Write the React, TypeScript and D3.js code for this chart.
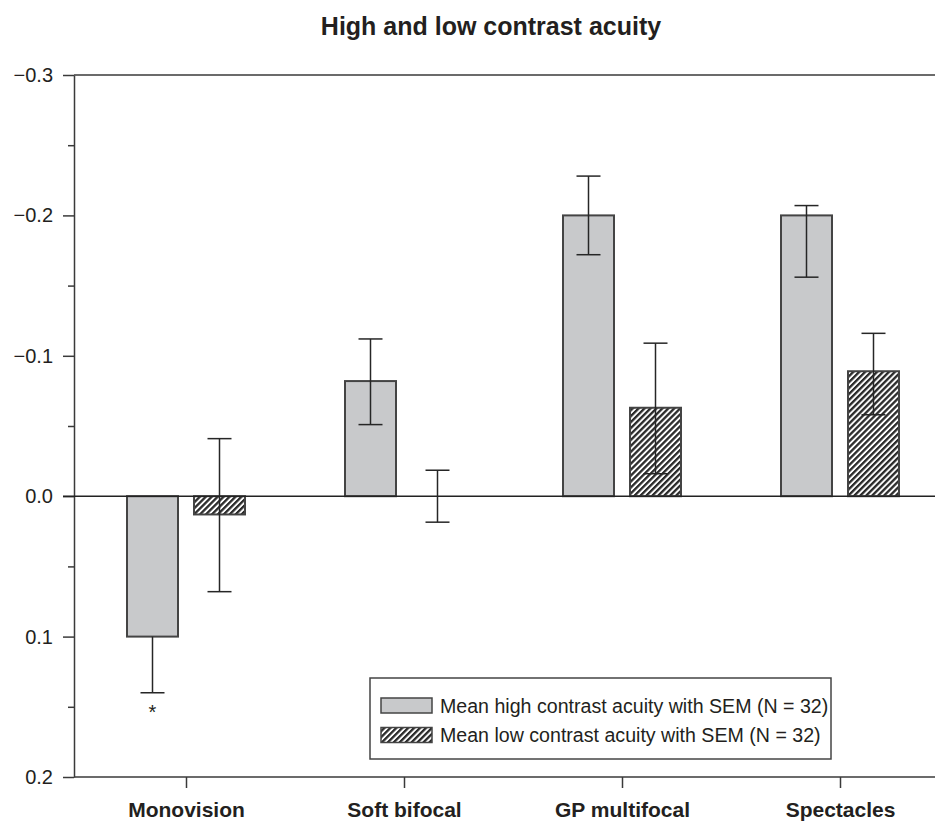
import { useRef, useEffect } from 'react';
import * as d3 from 'd3';

const categories = ['Monovision', 'Soft bifocal', 'GP multifocal', 'Spectacles'];

// mean values and the two ends of each SEM bar (y axis is reversed: negative is up)
const highMean = [0.1, -0.082, -0.2, -0.2];
const highErrMin = [0.1, -0.112, -0.228, -0.207];
const highErrMax = [0.14, -0.051, -0.172, -0.156];

const lowMean = [0.013, 0, -0.063, -0.089];
const lowErrMin = [-0.041, -0.0185, -0.109, -0.116];
const lowErrMax = [0.068, 0.0185, -0.016, -0.058];

const yTicks = [-0.3, -0.2, -0.1, 0, 0.1, 0.2];
const yMinorTicks = [-0.25, -0.15, -0.05, 0.05, 0.15];

const legendLabels = [
  'Mean high contrast acuity with SEM (N = 32)',
  'Mean low contrast acuity with SEM (N = 32)',
];

const FONT = "'Liberation Sans', Arial, Helvetica, sans-serif";
const INK = '#231f20';
const LINE = '#3a3a3a';
const GRAY = '#c8c9cb';

const App = () => {
  const svgRef = useRef<SVGSVGElement>(null);

  useEffect(() => {
    if (!svgRef.current) return;

    const width = 935;
    const height = 821;
    const plotLeft = 74;
    const plotTop = 75;
    const plotBottom = 777;

    const svg = d3
      .select(svgRef.current)
      .attr('width', width)
      .attr('height', height)
      .attr('viewBox', [0, 0, width, height]);

    svg.selectAll('*').remove();

    const defs = svg.append('defs');
    const pat = defs
      .append('pattern')
      .attr('id', 'hatch')
      .attr('patternUnits', 'userSpaceOnUse')
      .attr('width', 4.2)
      .attr('height', 4.2)
      .attr('patternTransform', 'rotate(45)');
    pat.append('rect').attr('width', 4.2).attr('height', 4.2).attr('fill', '#ffffff');
    pat.append('rect').attr('width', 2.3).attr('height', 4.2).attr('fill', '#2a2a2a');

    const x = d3
      .scalePoint<string>()
      .domain(categories)
      .range([77, 949])
      .padding(0.5);

    const y = d3.scaleLinear().domain([-0.3, 0.2]).range([plotTop, plotBottom]);

    const barW = 51;
    const offHigh = -59;
    const offLow = 8;

    // title
    svg
      .append('text')
      .attr('x', 491)
      .attr('y', 35)
      .attr('text-anchor', 'middle')
      .attr('font-family', FONT)
      .attr('font-weight', 'bold')
      .attr('font-size', 25)
      .attr('fill', INK)
      .text('High and low contrast acuity');

    // frame lines
    svg
      .append('line')
      .attr('x1', plotLeft)
      .attr('x2', width)
      .attr('y1', y(-0.3))
      .attr('y2', y(-0.3))
      .attr('stroke', LINE)
      .attr('stroke-width', 1.5);
    svg
      .append('line')
      .attr('x1', plotLeft)
      .attr('x2', width)
      .attr('y1', y(0.2))
      .attr('y2', y(0.2))
      .attr('stroke', LINE)
      .attr('stroke-width', 1.5);

    // left axis
    const yAxis = svg
      .append('g')
      .attr('transform', `translate(${plotLeft},0)`)
      .call(
        d3
          .axisLeft(y)
          .tickValues(yTicks)
          .tickSize(11)
          .tickSizeOuter(0)
          .tickPadding(10)
          .tickFormat(d3.format('.1f') as any),
      );
    yAxis.select('.domain').attr('stroke', LINE).attr('stroke-width', 1.5);
    yAxis.selectAll('.tick line').attr('stroke', LINE).attr('stroke-width', 1.5);
    yAxis
      .selectAll('.tick text')
      .attr('font-family', FONT)
      .attr('font-size', 20)
      .attr('fill', INK);

    const yMinor = svg
      .append('g')
      .attr('transform', `translate(${plotLeft},0)`)
      .call(d3.axisLeft(y).tickValues(yMinorTicks).tickSize(6).tickFormat(() => ''));
    yMinor.select('.domain').remove();
    yMinor.selectAll('.tick line').attr('stroke', LINE).attr('stroke-width', 1.5);

    // bottom axis ticks and labels
    const xAxis = svg
      .append('g')
      .attr('transform', `translate(0,${plotBottom})`)
      .call(d3.axisBottom(x).tickSize(11).tickSizeOuter(0).tickPadding(14));
    xAxis.select('.domain').remove();
    xAxis.selectAll('.tick line').attr('stroke', LINE).attr('stroke-width', 1.5);
    xAxis
      .selectAll('.tick text')
      .attr('font-family', FONT)
      .attr('font-weight', 'bold')
      .attr('font-size', 21)
      .attr('fill', INK);

    const drawBars = (means: number[], fill: string, off: number) => {
      svg
        .append('g')
        .selectAll('rect')
        .data(categories.map((c, i) => ({ c, v: means[i] })).filter((d) => d.v !== 0))
        .enter()
        .append('rect')
        .attr('x', (d) => x(d.c)! + off)
        .attr('y', (d) => Math.min(y(0), y(d.v)))
        .attr('width', barW)
        .attr('height', (d) => Math.abs(y(d.v) - y(0)))
        .attr('fill', fill)
        .attr('stroke', '#444')
        .attr('stroke-width', 2);
    };

    drawBars(highMean, GRAY, offHigh);
    drawBars(lowMean, 'url(#hatch)', offLow);

    // zero line
    svg
      .append('line')
      .attr('x1', 63)
      .attr('x2', width)
      .attr('y1', y(0))
      .attr('y2', y(0))
      .attr('stroke', '#222')
      .attr('stroke-width', 1.5);

    const drawErrors = (means: number[], lo: number[], hi: number[], off: number) => {
      const g = svg.append('g').attr('stroke', '#262626').attr('stroke-width', 1.5);
      categories.forEach((c, i) => {
        const cx = x(c)! + off + barW / 2;
        g.append('line')
          .attr('x1', cx)
          .attr('x2', cx)
          .attr('y1', y(lo[i]))
          .attr('y2', y(hi[i]));
        [lo[i], hi[i]]
          .filter((v) => v !== means[i])
          .forEach((v) => {
            g.append('line')
              .attr('x1', cx - 12)
              .attr('x2', cx + 12)
              .attr('y1', y(v))
              .attr('y2', y(v));
          });
      });
    };

    drawErrors(highMean, highErrMin, highErrMax, offHigh);
    drawErrors(lowMean, lowErrMin, lowErrMax, offLow);

    // significance marker
    svg
      .append('text')
      .attr('x', x(categories[0])! + offHigh + barW / 2)
      .attr('y', 719)
      .attr('text-anchor', 'middle')
      .attr('font-family', FONT)
      .attr('font-size', 20)
      .attr('fill', INK)
      .text('*');

    // legend
    const lg = svg.append('g');
    lg.append('rect')
      .attr('x', 370)
      .attr('y', 678)
      .attr('width', 461)
      .attr('height', 81)
      .attr('fill', '#fff')
      .attr('stroke', '#444')
      .attr('stroke-width', 1.5);
    const fills = [GRAY, 'url(#hatch)'];
    legendLabels.forEach((label, i) => {
      const yy = 698 + i * 29.5;
      lg.append('rect')
        .attr('x', 381)
        .attr('y', yy)
        .attr('width', 51)
        .attr('height', 15)
        .attr('fill', fills[i])
        .attr('stroke', '#444')
        .attr('stroke-width', 1.5);
      lg.append('text')
        .attr('x', 440)
        .attr('y', yy + 14.5)
        .attr('font-family', FONT)
        .attr('font-size', 19.6)
        .attr('fill', INK)
        .text(label);
    });
  }, []);

  return (
    <div style={{ position: 'absolute', left: 0, top: 0, background: '#fff' }}>
      <svg ref={svgRef} style={{ display: 'block' }}></svg>
    </div>
  );
};

export default App;
